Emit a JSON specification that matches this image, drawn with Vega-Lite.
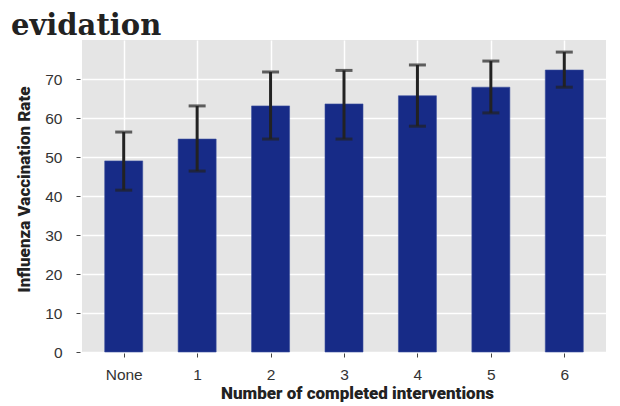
{
  "$schema": "https://vega.github.io/schema/vega-lite/v6.json",
  "autosize": {"type": "none"},
  "width": 524,
  "height": 312,
  "padding": {"left": 82, "top": 40, "right": 14, "bottom": 54},
  "background": "white",
  "title": {
    "text": "evidation",
    "anchor": "start",
    "frame": "group",
    "dx": -71,
    "dy": 5,
    "offset": 4,
    "font": "DejaVu Serif",
    "fontSize": 29,
    "fontWeight": "bold",
    "color": "#222222"
  },
  "config": {
    "view": {"fill": "#e5e5e5", "stroke": null},
    "axis": {
      "grid": true,
      "gridColor": "white",
      "gridWidth": 1.5,
      "domain": false,
      "tickColor": "#444444",
      "tickSize": 4,
      "labelFont": "Liberation Sans",
      "labelFontSize": 15.5,
      "labelColor": "#333333",
      "titleFont": "Roboto",
      "titleFontWeight": 900,
      "titleColor": "#222222"
    }
  },
  "data": {
    "values": [
      {"k": 0, "label": "None", "rate": 49.0, "lo": 41.5, "hi": 56.4},
      {"k": 1, "label": "1", "rate": 54.6, "lo": 46.4, "hi": 63.1},
      {"k": 2, "label": "2", "rate": 63.1, "lo": 54.6, "hi": 71.8},
      {"k": 3, "label": "3", "rate": 63.6, "lo": 54.6, "hi": 72.2},
      {"k": 4, "label": "4", "rate": 65.7, "lo": 57.9, "hi": 73.6},
      {"k": 5, "label": "5", "rate": 67.9, "lo": 61.3, "hi": 74.6},
      {"k": 6, "label": "6", "rate": 72.3, "lo": 67.9, "hi": 76.9}
    ]
  },
  "encoding": {
    "x": {
      "field": "k",
      "type": "quantitative",
      "scale": {"domain": [-0.5, 6.5], "nice": false, "zero": false},
      "axis": {
        "values": [0, 1, 2, 3, 4, 5, 6],
        "labelExpr": "datum.value == 0 ? 'None' : datum.label",
        "title": "Number of completed interventions",
        "titleFontSize": 17,
        "titleX": 275,
        "labelPadding": 10,
        "titlePadding": 3,
        "offset": 1
      }
    }
  },
  "layer": [
    {
      "mark": {"type": "bar", "size": 38, "color": "#172b87", "stroke": "#3a4f9e", "strokeWidth": 0.6},
      "encoding": {
        "y": {
          "field": "rate",
          "type": "quantitative",
          "scale": {"domain": [0, 80], "nice": false},
          "axis": {
            "values": [0, 10, 20, 30, 40, 50, 60, 70],
            "title": "Influenza Vaccination Rate",
            "titleFontSize": 17,
            "titleY": 149,
            "labelPadding": 14,
            "titlePadding": 11,
            "offset": 2
          }
        }
      }
    },
    {
      "mark": {"type": "rule", "color": "#222222", "strokeWidth": 3},
      "encoding": {
        "y": {"field": "lo", "type": "quantitative"},
        "y2": {"field": "hi"}
      }
    },
    {
      "mark": {"type": "tick", "orient": "horizontal", "color": "#222222", "size": 17, "thickness": 3},
      "encoding": {"y": {"field": "lo", "type": "quantitative"}}
    },
    {
      "mark": {"type": "tick", "orient": "horizontal", "color": "#222222", "size": 17, "thickness": 3},
      "encoding": {"y": {"field": "hi", "type": "quantitative"}}
    }
  ]
}
